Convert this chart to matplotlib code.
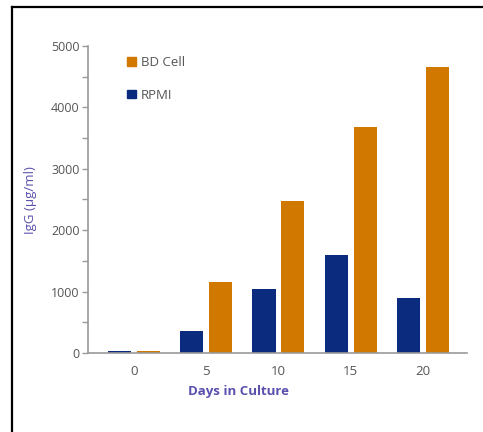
import matplotlib
matplotlib.use("Agg")
import matplotlib.pyplot as plt
from matplotlib.patches import Patch
from matplotlib.lines import Line2D
import numpy as np

days = ["0", "5", "10", "15", "20"]
bd_cell = [40, 1150, 2480, 3680, 4650]
rpmi = [40, 360, 1040, 1590, 900]
series_names = ["BD Cell", "RPMI"]

orange = "#D17800"
navy = "#0B2B7F"
label_color = "#5A50AE"
axis_gray = "#9a9a9a"
text_gray = "#555555"

plt.rcParams["font.family"] = ["Open Sans", "DejaVu Sans"]

fig = plt.figure(figsize=(4.83, 4.32), dpi=100)
ax = fig.add_axes([0.1822, 0.1829, 0.7847, 0.7106])

x = np.arange(len(days))
w = 0.32
ax.bar(x - 0.2, rpmi, width=w, color=navy, zorder=2)
ax.bar(x + 0.2, bd_cell, width=w, color=orange, zorder=2)

ax.set_xlim(-0.637, 4.61)
ax.set_ylim(0, 5000)

for s in ("top", "right"):
    ax.spines[s].set_visible(False)
ax.spines["left"].set_color(axis_gray)
ax.spines["bottom"].set_color(axis_gray)
ax.spines["left"].set_linewidth(1.2)
ax.spines["bottom"].set_linewidth(1.2)

ax.set_yticks([0, 1000, 2000, 3000, 4000, 5000])
ax.set_yticks(np.arange(500, 5000, 1000), minor=True)
ax.tick_params(axis="y", which="both", direction="out", length=4, width=1,
               color=axis_gray, labelcolor=text_gray, labelsize=9, pad=2)
ax.set_xticks(x)
ax.set_xticklabels(days)
ax.tick_params(axis="x", length=0, labelcolor=text_gray, labelsize=9.5, pad=9)

ax.set_xlabel("Days in Culture", color=label_color, fontsize=9.5,
              fontweight="bold")
ax.xaxis.set_label_coords((238 - 88) / 379, -0.105)
ax.set_ylabel("IgG (µg/ml)", color=label_color, fontsize=9.5)
ax.yaxis.set_label_coords(-(88 - 37) / 379, (353 - 200) / 307)

handles = [Patch(color=orange), Patch(color=navy)]
ax.legend(handles, series_names, loc="upper left", bbox_to_anchor=(0.09, 0.985),
          frameon=False, handlelength=0.65, handleheight=0.65,
          handletextpad=0.4, labelspacing=1.5, fontsize=9.5,
          labelcolor=text_gray, borderaxespad=0)

# frame lines around the panel
fig.add_artist(Line2D([12 / 483, 12 / 483], [0, 1 - 7 / 432],
                      transform=fig.transFigure, color="black", lw=1.6))
fig.add_artist(Line2D([12 / 483, 1], [1 - 7 / 432, 1 - 7 / 432],
                      transform=fig.transFigure, color="black", lw=1.6))

fig.savefig("out.png", dpi=100)
